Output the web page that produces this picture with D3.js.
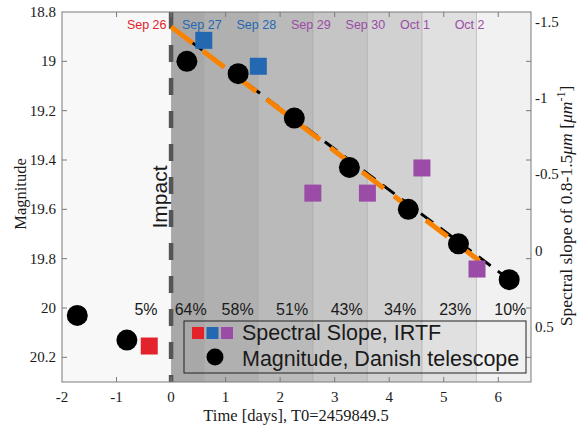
<!DOCTYPE html>
<meta charset="utf-8"/>
<title>Magnitude and spectral slope after impact</title>
<script src="https://cdn.jsdelivr.net/npm/d3@7"></script>
<style>
    body {
        margin: 0;
        background: #fff;
    }

    text {
        fill: #1a1a1a;
    }
</style>
<svg id="chart" width="579" height="427"></svg>
<script>
    "use strict";

    // magnitude, Danish telescope (left axis)
    const magTimes = [-1.72, -0.81, 0.29, 1.23, 2.26, 3.27, 4.35, 5.27, 6.2];
    const magValues = [20.03, 20.13, 19.0, 19.05, 19.23, 19.43, 19.6, 19.74, 19.885];

    // spectral slope, IRTF (right axis)
    const slopeTimes = [-0.4, 0.6, 1.6, 2.6, 3.6, 4.6, 5.61];
    const slopeValues = [0.625, -1.38, -1.21, -0.378, -0.378, -0.543, 0.12];
    const slopeGroup = ["pre", "early", "early", "late", "late", "late", "late"];

    // night labels along the top
    const nights = ["Sep 26", "Sep 27", "Sep 28", "Sep 29", "Sep 30", "Oct 1", "Oct 2"];
    const nightX = [-0.81, 0.2, 1.2, 2.2, 3.2, 4.2, 5.2];
    const nightGroup = ["pre", "early", "early", "late", "late", "late", "late"];

    // shaded bands and their percentages
    const bandEdges = [-2, 0, 0.6, 1.6, 2.6, 3.6, 4.6, 5.6, 6.6];
    const bandPct = [5, 64, 58, 51, 43, 34, 23, 10];
    const pctLabelX = [-0.46, 0.36, 1.22, 2.22, 3.22, 4.2, 5.21, 6.22];

    // linear trends (time, magnitude)
    const trendBlackT = [0, 6.2];
    const trendBlackM = [18.86, 19.885];
    const trendOrangeT = [0, 5.78];
    const trendOrangeM = [18.86, 19.83];

    const xTicks = [-2, -1, 0, 1, 2, 3, 4, 5, 6];
    const yLeftTicks = [18.8, 19, 19.2, 19.4, 19.6, 19.8, 20, 20.2];
    const yRightTicks = [-1.5, -1, -0.5, 0, 0.5];

    const pLeft = 62, pRight = 531, pTop = 12, pBottom = 382;
    const serif = "'Liberation Serif', 'Times New Roman', serif";
    const sans = "'Liberation Sans', Arial, sans-serif";

    const x = d3.scaleLinear().domain([-2, 6.6]).range([pLeft, pRight]);
    const yL = d3.scaleLinear().domain([18.8, 20.3]).range([pTop, pBottom]);
    const yR = d3.scaleLinear().domain([-1.566, 0.861]).range([pTop, pBottom]);
    const gray = d3.scaleLinear().domain([0, 100]).range([255, 119]);
    const groupColor = d3.scaleOrdinal()
        .domain(["pre", "early", "late"])
        .range(["#e3222b", "#2468b2", "#9a4ca6"]);

    const svg = d3.select("#chart");

    // bands
    const bands = bandPct.map(function (p, i)
    {
        return {p: p, x0: bandEdges[i], x1: bandEdges[i + 1]};
    });
    svg.append("g").selectAll("rect")
        .data(bands)
        .enter()
        .append("rect")
        .attr("x", function (d) { return x(d.x0); })
        .attr("y", pTop)
        .attr("width", function (d) { return x(d.x1) - x(d.x0); })
        .attr("height", pBottom - pTop)
        .attr("fill", function (d)
        {
            const g = Math.round(gray(d.p));
            return d3.rgb(g, g, g);
        });
    svg.append("g").selectAll("line")
        .data(bandEdges.slice(2, -1))
        .enter()
        .append("line")
        .attr("x1", function (d) { return x(d); })
        .attr("x2", function (d) { return x(d); })
        .attr("y1", pTop)
        .attr("y2", pBottom)
        .attr("stroke", "#8c8c8c")
        .attr("stroke-opacity", 0.45)
        .attr("stroke-width", 1);

    // impact line
    svg.append("line")
        .attr("x1", x(0)).attr("x2", x(0))
        .attr("y1", pTop).attr("y2", pBottom)
        .attr("stroke", "#555")
        .attr("stroke-width", 4.5)
        .attr("stroke-dasharray", "17,16");
    svg.append("text")
        .attr("font-family", sans)
        .attr("transform", "translate(" + (x(0) - 4) + ",197) rotate(-90)")
        .attr("text-anchor", "middle")
        .attr("font-size", 21)
        .text("Impact");

    // night labels
    svg.append("g").selectAll("text")
        .data(nights)
        .enter()
        .append("text")
        .attr("font-family", sans)
        .attr("x", function (d, i) { return x(nightX[i]); })
        .attr("y", 29)
        .attr("font-size", 12.5)
        .style("fill", function (d, i) { return groupColor(nightGroup[i]); })
        .text(function (d) { return d; });

    // percentages
    svg.append("g").selectAll("text")
        .data(bandPct)
        .enter()
        .append("text")
        .attr("font-family", sans)
        .attr("x", function (d, i) { return x(pctLabelX[i]); })
        .attr("y", 315)
        .attr("text-anchor", "middle")
        .attr("font-size", 16)
        .text(function (d) { return d + "%"; });

    // trends
    const trend = d3.line()
        .x(function (d) { return x(d[0]); })
        .y(function (d) { return yL(d[1]); });
    svg.append("path")
        .attr("d", trend(d3.zip(trendBlackT, trendBlackM)))
        .attr("fill", "none")
        .attr("stroke", "#000")
        .attr("stroke-width", 3)
        .attr("stroke-dasharray", "15,9");
    svg.append("path")
        .attr("d", trend(d3.zip(trendOrangeT, trendOrangeM)))
        .attr("fill", "none")
        .attr("stroke", "#f98300")
        .attr("stroke-width", 5)
        .attr("stroke-dasharray", "27,13");

    // magnitudes
    svg.append("g").selectAll("circle")
        .data(d3.zip(magTimes, magValues))
        .enter()
        .append("circle")
        .attr("cx", function (d) { return x(d[0]); })
        .attr("cy", function (d) { return yL(d[1]); })
        .attr("r", 10.5)
        .attr("fill", "#000");

    // spectral slopes
    const sq = 17;
    svg.append("g").selectAll("rect")
        .data(d3.zip(slopeTimes, slopeValues, slopeGroup))
        .enter()
        .append("rect")
        .attr("x", function (d) { return x(d[0]) - sq / 2; })
        .attr("y", function (d) { return yR(d[1]) - sq / 2; })
        .attr("width", sq)
        .attr("height", sq)
        .attr("fill", function (d) { return groupColor(d[2]); });

    // box and ticks (ticks point inwards)
    const axisColor = "#7a7a7a";
    svg.append("rect")
        .attr("x", pLeft).attr("y", pTop)
        .attr("width", pRight - pLeft).attr("height", pBottom - pTop)
        .attr("fill", "none")
        .attr("stroke", axisColor);

    const ticks = svg.append("g").attr("stroke", axisColor);
    xTicks.slice(1).forEach(function (t)
    {
        ticks.append("line").attr("x1", x(t)).attr("x2", x(t)).attr("y1", pBottom).attr("y2", pBottom - 5);
        ticks.append("line").attr("x1", x(t)).attr("x2", x(t)).attr("y1", pTop).attr("y2", pTop + 5);
    });
    yLeftTicks.slice(1).forEach(function (t)
    {
        ticks.append("line").attr("x1", pLeft).attr("x2", pLeft + 5).attr("y1", yL(t)).attr("y2", yL(t));
        ticks.append("line").attr("x1", pRight).attr("x2", pRight - 5).attr("y1", yL(t)).attr("y2", yL(t));
    });

    // tick labels
    svg.append("g").selectAll("text")
        .data(xTicks)
        .enter()
        .append("text")
        .attr("font-family", serif)
        .attr("x", function (d) { return x(d); })
        .attr("y", 402)
        .attr("text-anchor", "middle")
        .attr("font-size", 15)
        .text(function (d) { return d; });

    svg.append("g").selectAll("text")
        .data(yLeftTicks)
        .enter()
        .append("text")
        .attr("font-family", serif)
        .attr("x", 56)
        .attr("y", function (d) { return yL(d); })
        .attr("dy", "0.33em")
        .attr("text-anchor", "end")
        .attr("font-size", 15)
        .text(function (d) { return d; });

    svg.append("g").selectAll("text")
        .data(yRightTicks)
        .enter()
        .append("text")
        .attr("font-family", serif)
        .attr("x", 535)
        .attr("y", function (d) { return yR(d); })
        .attr("dy", "0.33em")
        .attr("font-size", 15)
        .text(function (d) { return d; });

    // axis labels
    svg.append("text")
        .attr("font-family", serif)
        .attr("x", 296)
        .attr("y", 421)
        .attr("text-anchor", "middle")
        .attr("font-size", 16.5)
        .text("Time [days], T0=2459849.5");

    svg.append("text")
        .attr("font-family", serif)
        .attr("transform", "translate(26,194) rotate(-90)")
        .attr("text-anchor", "middle")
        .attr("font-size", 16.5)
        .text("Magnitude");

    const rLabel = svg.append("text")
        .attr("font-family", serif)
        .attr("transform", "translate(572,206) rotate(-90)")
        .attr("text-anchor", "middle")
        .attr("font-size", 17.5);
    rLabel.append("tspan").text("Spectral slope of 0.8-1.5");
    rLabel.append("tspan").attr("font-style", "italic").text("\u03bcm");
    rLabel.append("tspan").text(" [");
    rLabel.append("tspan").attr("font-style", "italic").text("\u03bcm");
    rLabel.append("tspan").attr("font-size", 12).attr("dy", -7).text("-1");
    rLabel.append("tspan").attr("dy", 7).text("]");

    // legend
    const legend = svg.append("g");
    legend.append("rect")
        .attr("x", 184).attr("y", 321)
        .attr("width", 342).attr("height", 52)
        .attr("fill", "none")
        .attr("stroke", "#222")
        .attr("stroke-width", 1);
    legend.selectAll("rect.key")
        .data(groupColor.domain())
        .enter()
        .append("rect")
        .attr("class", "key")
        .attr("x", function (d, i) { return 192 + i * 14.5; })
        .attr("y", 327)
        .attr("width", 12)
        .attr("height", 12)
        .attr("fill", function (d) { return groupColor(d); });
    legend.append("circle")
        .attr("cx", 215).attr("cy", 357).attr("r", 8.5).attr("fill", "#000");
    legend.append("text")
        .attr("font-family", sans)
        .attr("x", 242).attr("y", 340)
        .attr("font-size", 21.5)
        .text("Spectral Slope, IRTF");
    legend.append("text")
        .attr("font-family", sans)
        .attr("x", 242).attr("y", 366)
        .attr("font-size", 21.5)
        .text("Magnitude, Danish telescope");
</script>
